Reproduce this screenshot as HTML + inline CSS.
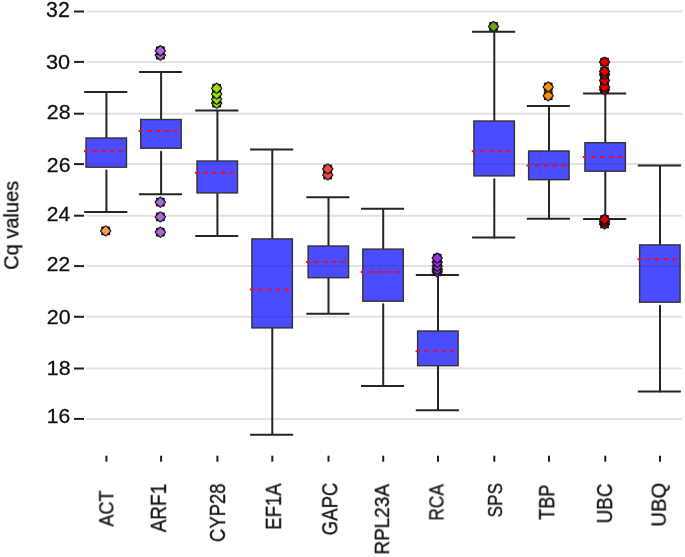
<!DOCTYPE html>
<html><head><meta charset="utf-8"><style>
html,body{margin:0;padding:0;background:#fff;width:685px;height:557px;overflow:hidden}
svg{display:block}
text{will-change:transform}
</style></head><body>
<svg width="685" height="557" viewBox="0 0 685 557">
<rect width="685" height="557" fill="#fff"/>
<defs><g id="mk"><circle r="5.0" fill="#151515"/><g fill="#151515"><circle cy="-4.6" r="1.1"/><circle cy="4.6" r="1.1"/><circle cx="4.6" r="1.1"/><circle cx="-4.6" r="1.1"/><circle cx="3.4" cy="3.4" r="1.05"/><circle cx="-3.4" cy="3.4" r="1.05"/><circle cx="3.4" cy="-3.4" r="1.05"/><circle cx="-3.4" cy="-3.4" r="1.05"/></g><path d="M0,-4.3L4.3,0L0,4.3L-4.3,0Z" stroke="currentColor" stroke-width="0.6" stroke-linejoin="round"/></g><clipPath id="bx"><rect x="86.70" y="138.70" width="39.10" height="27.80"/><rect x="141.40" y="120.20" width="39.10" height="27.30"/><rect x="197.70" y="161.70" width="39.10" height="30.50"/><rect x="252.60" y="239.60" width="39.10" height="87.60"/><rect x="308.80" y="246.70" width="39.10" height="30.30"/><rect x="363.50" y="249.80" width="39.10" height="50.70"/><rect x="418.30" y="331.70" width="39.10" height="33.30"/><rect x="474.60" y="121.70" width="39.10" height="53.50"/><rect x="529.30" y="151.70" width="39.10" height="27.30"/><rect x="585.60" y="143.40" width="39.10" height="27.10"/><rect x="640.30" y="245.60" width="39.10" height="55.90"/></clipPath></defs>
<line x1="86" y1="11.5" x2="682" y2="11.5" stroke="#e2e2e2" stroke-width="2"/>
<line x1="74" y1="11.5" x2="84" y2="11.5" stroke="#1e1e1e" stroke-width="2"/>
<line x1="86" y1="61.9" x2="682" y2="61.9" stroke="#e2e2e2" stroke-width="2"/>
<line x1="74" y1="61.9" x2="84" y2="61.9" stroke="#1e1e1e" stroke-width="2"/>
<line x1="86" y1="113.7" x2="682" y2="113.7" stroke="#e2e2e2" stroke-width="2"/>
<line x1="74" y1="113.7" x2="84" y2="113.7" stroke="#1e1e1e" stroke-width="2"/>
<line x1="86" y1="164.1" x2="682" y2="164.1" stroke="#e2e2e2" stroke-width="2"/>
<line x1="74" y1="164.1" x2="84" y2="164.1" stroke="#1e1e1e" stroke-width="2"/>
<line x1="86" y1="215.7" x2="682" y2="215.7" stroke="#e2e2e2" stroke-width="2"/>
<line x1="74" y1="215.7" x2="84" y2="215.7" stroke="#1e1e1e" stroke-width="2"/>
<line x1="86" y1="266.1" x2="682" y2="266.1" stroke="#e2e2e2" stroke-width="2"/>
<line x1="74" y1="266.1" x2="84" y2="266.1" stroke="#1e1e1e" stroke-width="2"/>
<line x1="86" y1="316.8" x2="682" y2="316.8" stroke="#e2e2e2" stroke-width="2"/>
<line x1="74" y1="316.8" x2="84" y2="316.8" stroke="#1e1e1e" stroke-width="2"/>
<line x1="86" y1="368.5" x2="682" y2="368.5" stroke="#e2e2e2" stroke-width="2"/>
<line x1="74" y1="368.5" x2="84" y2="368.5" stroke="#1e1e1e" stroke-width="2"/>
<line x1="86" y1="418.9" x2="682" y2="418.9" stroke="#e2e2e2" stroke-width="2"/>
<line x1="74" y1="418.9" x2="84" y2="418.9" stroke="#1e1e1e" stroke-width="2"/>
<text transform="translate(46.05,16.69) scale(1.0003,1)" font-family="Liberation Sans, sans-serif" font-size="21.27" fill="#111" stroke="#111" stroke-width="0.3">32</text>
<text transform="translate(46.03,68.99) scale(1.0359,1)" font-family="Liberation Sans, sans-serif" font-size="20.99" fill="#111" stroke="#111" stroke-width="0.3">30</text>
<text transform="translate(46.84,119.20) scale(1.0417,1)" font-family="Liberation Sans, sans-serif" font-size="20.42" fill="#111" stroke="#111" stroke-width="0.3">28</text>
<text transform="translate(46.84,172.49) scale(1.0206,1)" font-family="Liberation Sans, sans-serif" font-size="20.85" fill="#111" stroke="#111" stroke-width="0.3">26</text>
<text transform="translate(46.85,221.00) scale(1.0052,1)" font-family="Liberation Sans, sans-serif" font-size="20.86" fill="#111" stroke="#111" stroke-width="0.3">24</text>
<text transform="translate(46.85,271.20) scale(1.0064,1)" font-family="Liberation Sans, sans-serif" font-size="20.86" fill="#111" stroke="#111" stroke-width="0.3">22</text>
<text transform="translate(46.83,323.69) scale(1.0367,1)" font-family="Liberation Sans, sans-serif" font-size="20.70" fill="#111" stroke="#111" stroke-width="0.3">20</text>
<text transform="translate(46.80,374.70) scale(1.0579,1)" font-family="Liberation Sans, sans-serif" font-size="20.14" fill="#111" stroke="#111" stroke-width="0.3">18</text>
<text transform="translate(46.82,423.19) scale(1.0264,1)" font-family="Liberation Sans, sans-serif" font-size="20.56" fill="#111" stroke="#111" stroke-width="0.3">16</text>
<text transform="translate(18.28,269.90) rotate(-90) scale(0.9525,1)" font-family="Liberation Sans, sans-serif" font-size="21.07" fill="#111" stroke="#111" stroke-width="0.3">Cq values</text>
<line x1="106.4" y1="455.7" x2="106.4" y2="461.7" stroke="#1e1e1e" stroke-width="2"/>
<line x1="161.1" y1="455.7" x2="161.1" y2="461.7" stroke="#1e1e1e" stroke-width="2"/>
<line x1="217.4" y1="455.7" x2="217.4" y2="461.7" stroke="#1e1e1e" stroke-width="2"/>
<line x1="272.3" y1="455.7" x2="272.3" y2="461.7" stroke="#1e1e1e" stroke-width="2"/>
<line x1="328.5" y1="455.7" x2="328.5" y2="461.7" stroke="#1e1e1e" stroke-width="2"/>
<line x1="383.2" y1="455.7" x2="383.2" y2="461.7" stroke="#1e1e1e" stroke-width="2"/>
<line x1="438.0" y1="455.7" x2="438.0" y2="461.7" stroke="#1e1e1e" stroke-width="2"/>
<line x1="494.3" y1="455.7" x2="494.3" y2="461.7" stroke="#1e1e1e" stroke-width="2"/>
<line x1="549.0" y1="455.7" x2="549.0" y2="461.7" stroke="#1e1e1e" stroke-width="2"/>
<line x1="605.3" y1="455.7" x2="605.3" y2="461.7" stroke="#1e1e1e" stroke-width="2"/>
<line x1="660.0" y1="455.7" x2="660.0" y2="461.7" stroke="#1e1e1e" stroke-width="2"/>
<text transform="translate(113.29,526.69) rotate(-90) scale(0.8777,1)" font-family="Liberation Sans, sans-serif" font-size="20.70" fill="#111" stroke="#111" stroke-width="0.3">ACT</text>
<text transform="translate(165.90,532.40) rotate(-90) scale(0.8877,1)" font-family="Liberation Sans, sans-serif" font-size="21.45" fill="#111" stroke="#111" stroke-width="0.3">ARF1</text>
<text transform="translate(224.98,541.92) rotate(-90) scale(0.8461,1)" font-family="Liberation Sans, sans-serif" font-size="21.83" fill="#111" stroke="#111" stroke-width="0.3">CYP28</text>
<text transform="translate(280.90,529.68) rotate(-90) scale(0.8477,1)" font-family="Liberation Sans, sans-serif" font-size="21.88" fill="#111" stroke="#111" stroke-width="0.3">EF1A</text>
<text transform="translate(337.29,535.23) rotate(-90) scale(0.8719,1)" font-family="Liberation Sans, sans-serif" font-size="21.27" fill="#111" stroke="#111" stroke-width="0.3">GAPC</text>
<text transform="translate(388.90,554.62) rotate(-90) scale(0.9683,1)" font-family="Liberation Sans, sans-serif" font-size="19.58" fill="#111" stroke="#111" stroke-width="0.3">RPL23A</text>
<text transform="translate(443.39,520.59) rotate(-90) scale(0.8372,1)" font-family="Liberation Sans, sans-serif" font-size="20.70" fill="#111" stroke="#111" stroke-width="0.3">RCA</text>
<text transform="translate(502.09,517.37) rotate(-90) scale(0.8326,1)" font-family="Liberation Sans, sans-serif" font-size="20.56" fill="#111" stroke="#111" stroke-width="0.3">SPS</text>
<text transform="translate(554.20,519.85) rotate(-90) scale(0.8418,1)" font-family="Liberation Sans, sans-serif" font-size="21.59" fill="#111" stroke="#111" stroke-width="0.3">TBP</text>
<text transform="translate(612.09,523.52) rotate(-90) scale(0.8909,1)" font-family="Liberation Sans, sans-serif" font-size="21.27" fill="#111" stroke="#111" stroke-width="0.3">UBC</text>
<text transform="translate(665.70,526.72) rotate(-90) scale(1.0366,1)" font-family="Liberation Sans, sans-serif" font-size="19.58" fill="#111" stroke="#111" stroke-width="0.3">UBQ</text>
<line x1="106.40" y1="91.96" x2="106.40" y2="138.00" stroke="#252525" stroke-width="2"/>
<line x1="106.40" y1="170.50" x2="106.40" y2="211.90" stroke="#252525" stroke-width="2" stroke-linecap="round"/>
<line x1="84.20" y1="91.96" x2="127.30" y2="91.96" stroke="#252525" stroke-width="2"/>
<line x1="84.20" y1="211.90" x2="127.30" y2="211.90" stroke="#252525" stroke-width="2"/>
<rect x="86.00" y="138.00" width="40.50" height="29.20" fill="#4b4bff" stroke="#333" stroke-width="1.4"/>
<line x1="83.95" y1="151.20" x2="123.10" y2="151.20" stroke="#e8102a" stroke-width="2" stroke-dasharray="4.4 4.25"/>
<use href="#mk" x="105.65" y="230.90" fill="#f89a5e" color="#f89a5e"/>
<line x1="161.10" y1="72.00" x2="161.10" y2="119.50" stroke="#252525" stroke-width="2"/>
<line x1="161.10" y1="151.70" x2="161.10" y2="194.20" stroke="#252525" stroke-width="2" stroke-linecap="round"/>
<line x1="138.90" y1="72.00" x2="182.00" y2="72.00" stroke="#252525" stroke-width="2"/>
<line x1="138.90" y1="194.20" x2="182.00" y2="194.20" stroke="#252525" stroke-width="2"/>
<rect x="140.70" y="119.50" width="40.50" height="28.70" fill="#4b4bff" stroke="#333" stroke-width="1.4"/>
<line x1="138.65" y1="131.00" x2="177.80" y2="131.00" stroke="#e8102a" stroke-width="2" stroke-dasharray="4.4 4.25"/>
<use href="#mk" x="160.35" y="232.20" fill="#b066e0" color="#b066e0"/>
<use href="#mk" x="160.35" y="216.90" fill="#b066e0" color="#b066e0"/>
<use href="#mk" x="160.35" y="202.20" fill="#b066e0" color="#b066e0"/>
<use href="#mk" x="160.35" y="55.20" fill="#b066e0" color="#b066e0"/>
<use href="#mk" x="160.35" y="50.80" fill="#b066e0" color="#b066e0"/>
<line x1="217.40" y1="110.60" x2="217.40" y2="161.00" stroke="#252525" stroke-width="2"/>
<line x1="217.40" y1="192.90" x2="217.40" y2="236.10" stroke="#252525" stroke-width="2"/>
<line x1="195.20" y1="110.60" x2="238.30" y2="110.60" stroke="#252525" stroke-width="2"/>
<line x1="195.20" y1="236.10" x2="238.30" y2="236.10" stroke="#252525" stroke-width="2"/>
<rect x="197.00" y="161.00" width="40.50" height="31.90" fill="#4b4bff" stroke="#333" stroke-width="1.4"/>
<line x1="194.95" y1="172.80" x2="234.10" y2="172.80" stroke="#e8102a" stroke-width="2" stroke-dasharray="4.4 4.25"/>
<use href="#mk" x="216.65" y="103.20" fill="#9be000" color="#9be000"/>
<use href="#mk" x="216.65" y="99.30" fill="#9be000" color="#9be000"/>
<use href="#mk" x="216.65" y="94.00" fill="#9be000" color="#9be000"/>
<use href="#mk" x="216.65" y="88.30" fill="#9be000" color="#9be000"/>
<line x1="272.30" y1="149.50" x2="272.30" y2="238.90" stroke="#252525" stroke-width="2"/>
<line x1="272.30" y1="327.90" x2="272.30" y2="434.80" stroke="#252525" stroke-width="2"/>
<line x1="250.10" y1="149.50" x2="293.20" y2="149.50" stroke="#252525" stroke-width="2"/>
<line x1="250.10" y1="434.80" x2="293.20" y2="434.80" stroke="#252525" stroke-width="2"/>
<rect x="251.90" y="238.90" width="40.50" height="89.00" fill="#4b4bff" stroke="#333" stroke-width="1.4"/>
<line x1="249.85" y1="289.40" x2="289.00" y2="289.40" stroke="#e8102a" stroke-width="2" stroke-dasharray="4.4 4.25"/>
<line x1="328.50" y1="197.20" x2="328.50" y2="246.00" stroke="#252525" stroke-width="2"/>
<line x1="328.50" y1="277.70" x2="328.50" y2="313.80" stroke="#252525" stroke-width="2"/>
<line x1="306.30" y1="197.20" x2="349.40" y2="197.20" stroke="#252525" stroke-width="2"/>
<line x1="306.30" y1="313.80" x2="349.40" y2="313.80" stroke="#252525" stroke-width="2"/>
<rect x="308.10" y="246.00" width="40.50" height="31.70" fill="#4b4bff" stroke="#333" stroke-width="1.4"/>
<line x1="306.05" y1="262.00" x2="345.20" y2="262.00" stroke="#e8102a" stroke-width="2" stroke-dasharray="4.4 4.25"/>
<use href="#mk" x="327.75" y="175.00" fill="#f04848" color="#f04848"/>
<use href="#mk" x="327.75" y="168.90" fill="#f04848" color="#f04848"/>
<line x1="383.20" y1="208.80" x2="383.20" y2="249.10" stroke="#252525" stroke-width="2"/>
<line x1="383.20" y1="304.20" x2="383.20" y2="385.90" stroke="#252525" stroke-width="2" stroke-linecap="round"/>
<line x1="361.00" y1="208.80" x2="404.10" y2="208.80" stroke="#252525" stroke-width="2"/>
<line x1="361.00" y1="385.90" x2="404.10" y2="385.90" stroke="#252525" stroke-width="2"/>
<rect x="362.80" y="249.10" width="40.50" height="52.10" fill="#4b4bff" stroke="#333" stroke-width="1.4"/>
<line x1="360.75" y1="272.10" x2="399.90" y2="272.10" stroke="#e8102a" stroke-width="2" stroke-dasharray="4.4 4.25"/>
<line x1="438.00" y1="275.10" x2="438.00" y2="331.00" stroke="#252525" stroke-width="2"/>
<line x1="438.00" y1="365.70" x2="438.00" y2="410.30" stroke="#252525" stroke-width="2"/>
<line x1="415.80" y1="275.10" x2="458.90" y2="275.10" stroke="#252525" stroke-width="2"/>
<line x1="415.80" y1="410.30" x2="458.90" y2="410.30" stroke="#252525" stroke-width="2"/>
<rect x="417.60" y="331.00" width="40.50" height="34.70" fill="#4b4bff" stroke="#333" stroke-width="1.4"/>
<line x1="415.55" y1="351.30" x2="454.70" y2="351.30" stroke="#e8102a" stroke-width="2" stroke-dasharray="4.4 4.25"/>
<use href="#mk" x="437.25" y="271.80" fill="#9c30e0" color="#9c30e0"/>
<use href="#mk" x="437.25" y="269.40" fill="#9c30e0" color="#9c30e0"/>
<use href="#mk" x="437.25" y="266.30" fill="#9c30e0" color="#9c30e0"/>
<use href="#mk" x="437.25" y="262.30" fill="#9c30e0" color="#9c30e0"/>
<use href="#mk" x="437.25" y="258.10" fill="#9c30e0" color="#9c30e0"/>
<line x1="494.30" y1="31.80" x2="494.30" y2="121.00" stroke="#252525" stroke-width="2"/>
<line x1="494.30" y1="179.20" x2="494.30" y2="237.50" stroke="#252525" stroke-width="2" stroke-linecap="round"/>
<line x1="472.10" y1="31.80" x2="515.20" y2="31.80" stroke="#252525" stroke-width="2"/>
<line x1="472.10" y1="237.50" x2="515.20" y2="237.50" stroke="#252525" stroke-width="2"/>
<rect x="473.90" y="121.00" width="40.50" height="54.90" fill="#4b4bff" stroke="#333" stroke-width="1.4"/>
<line x1="471.85" y1="151.20" x2="511.00" y2="151.20" stroke="#e8102a" stroke-width="2" stroke-dasharray="4.4 4.25"/>
<use href="#mk" x="493.55" y="26.50" fill="#6aaa10" color="#6aaa10"/>
<line x1="549.00" y1="106.10" x2="549.00" y2="151.00" stroke="#252525" stroke-width="2"/>
<line x1="549.00" y1="179.70" x2="549.00" y2="218.80" stroke="#252525" stroke-width="2"/>
<line x1="526.80" y1="106.10" x2="569.90" y2="106.10" stroke="#252525" stroke-width="2"/>
<line x1="526.80" y1="218.80" x2="569.90" y2="218.80" stroke="#252525" stroke-width="2"/>
<rect x="528.60" y="151.00" width="40.50" height="28.70" fill="#4b4bff" stroke="#333" stroke-width="1.4"/>
<line x1="526.55" y1="165.40" x2="565.70" y2="165.40" stroke="#e8102a" stroke-width="2" stroke-dasharray="4.4 4.25"/>
<use href="#mk" x="548.25" y="95.80" fill="#ff9000" color="#ff9000"/>
<use href="#mk" x="548.25" y="87.00" fill="#ff9000" color="#ff9000"/>
<line x1="605.30" y1="93.50" x2="605.30" y2="142.70" stroke="#252525" stroke-width="2"/>
<line x1="605.30" y1="171.20" x2="605.30" y2="218.90" stroke="#252525" stroke-width="2"/>
<line x1="583.10" y1="93.50" x2="626.20" y2="93.50" stroke="#252525" stroke-width="2"/>
<line x1="583.10" y1="218.90" x2="626.20" y2="218.90" stroke="#252525" stroke-width="2"/>
<rect x="584.90" y="142.70" width="40.50" height="28.50" fill="#4b4bff" stroke="#333" stroke-width="1.4"/>
<line x1="582.85" y1="157.00" x2="622.00" y2="157.00" stroke="#e8102a" stroke-width="2" stroke-dasharray="4.4 4.25"/>
<use href="#mk" x="604.55" y="224.00" fill="#e00000" color="#e00000"/>
<use href="#mk" x="604.55" y="221.50" fill="#e00000" color="#e00000"/>
<use href="#mk" x="604.55" y="219.50" fill="#e00000" color="#e00000"/>
<use href="#mk" x="604.55" y="89.50" fill="#e00000" color="#e00000"/>
<use href="#mk" x="604.55" y="87.00" fill="#e00000" color="#e00000"/>
<use href="#mk" x="604.55" y="80.50" fill="#e00000" color="#e00000"/>
<use href="#mk" x="604.55" y="74.50" fill="#e00000" color="#e00000"/>
<use href="#mk" x="604.55" y="71.50" fill="#e00000" color="#e00000"/>
<use href="#mk" x="604.55" y="62.10" fill="#e00000" color="#e00000"/>
<line x1="660.00" y1="165.40" x2="660.00" y2="244.90" stroke="#252525" stroke-width="2"/>
<line x1="660.00" y1="305.70" x2="660.00" y2="391.60" stroke="#252525" stroke-width="2" stroke-linecap="round"/>
<line x1="637.80" y1="165.40" x2="680.90" y2="165.40" stroke="#252525" stroke-width="2"/>
<line x1="637.80" y1="391.60" x2="680.90" y2="391.60" stroke="#252525" stroke-width="2"/>
<rect x="639.60" y="244.90" width="40.50" height="57.30" fill="#4b4bff" stroke="#333" stroke-width="1.4"/>
<line x1="637.55" y1="259.20" x2="676.70" y2="259.20" stroke="#e8102a" stroke-width="2" stroke-dasharray="4.4 4.25"/>
<g clip-path="url(#bx)">
<line x1="86" y1="11.5" x2="685" y2="11.5" stroke="#000" stroke-opacity="0.07" stroke-width="2"/>
<line x1="86" y1="61.9" x2="685" y2="61.9" stroke="#000" stroke-opacity="0.07" stroke-width="2"/>
<line x1="86" y1="113.7" x2="685" y2="113.7" stroke="#000" stroke-opacity="0.07" stroke-width="2"/>
<line x1="86" y1="164.1" x2="685" y2="164.1" stroke="#000" stroke-opacity="0.07" stroke-width="2"/>
<line x1="86" y1="215.7" x2="685" y2="215.7" stroke="#000" stroke-opacity="0.07" stroke-width="2"/>
<line x1="86" y1="266.1" x2="685" y2="266.1" stroke="#000" stroke-opacity="0.07" stroke-width="2"/>
<line x1="86" y1="316.8" x2="685" y2="316.8" stroke="#000" stroke-opacity="0.07" stroke-width="2"/>
<line x1="86" y1="368.5" x2="685" y2="368.5" stroke="#000" stroke-opacity="0.07" stroke-width="2"/>
<line x1="86" y1="418.9" x2="685" y2="418.9" stroke="#000" stroke-opacity="0.07" stroke-width="2"/>
</g>
</svg>
</body></html>
